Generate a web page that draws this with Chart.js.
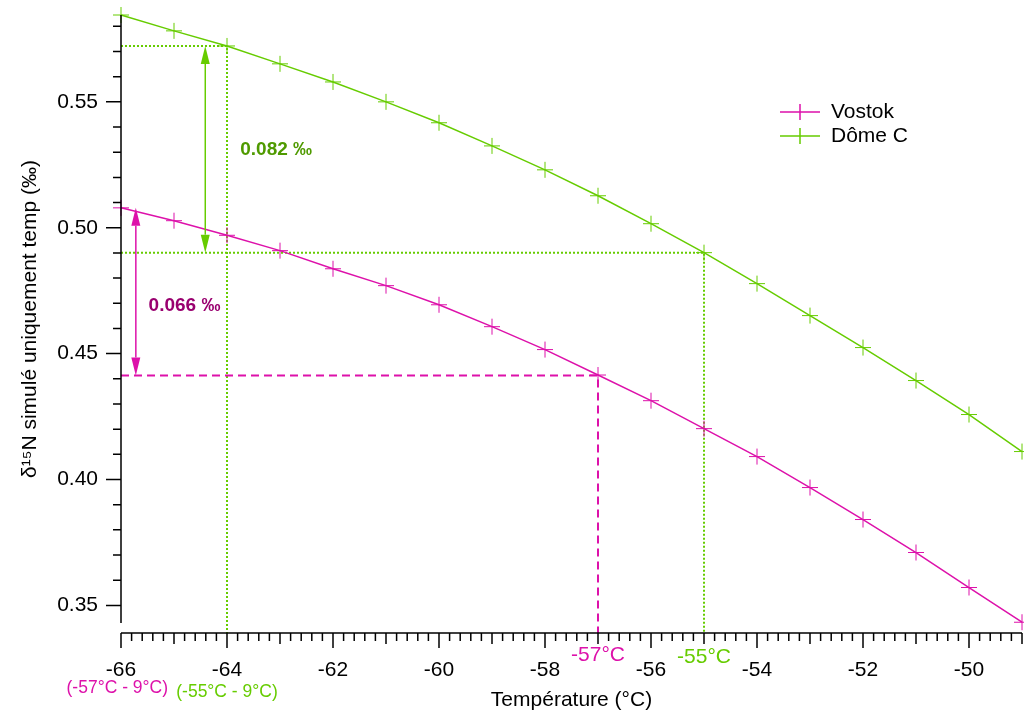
<!DOCTYPE html>
<html>
<head>
<meta charset="utf-8">
<script src="https://cdn.jsdelivr.net/npm/chart.js@4"></script>
<style>
  html, body { margin: 0; padding: 0; background: #fff; overflow: hidden; }
  #wrap { width: 1024px; height: 714px; position: relative; }
</style>
</head>
<body>
<div id="wrap"><canvas id="chart"></canvas></div>
<script>
// data
const temperatures = [-66, -65, -64, -63, -62, -61, -60, -59, -58, -57, -56, -55, -54, -53, -52, -51, -50, -49];
const vostok = [0.5079, 0.5028, 0.4970, 0.4909, 0.4837, 0.4770, 0.4694, 0.4607, 0.4516, 0.4415, 0.4313, 0.4202, 0.4091, 0.3968, 0.3841, 0.3710, 0.3571, 0.3433];
const domeC = [0.5845, 0.5782, 0.5722, 0.5651, 0.5579, 0.5500, 0.5417, 0.5325, 0.5230, 0.5127, 0.5016, 0.4901, 0.4778, 0.4651, 0.4524, 0.4393, 0.4258, 0.4111];
const xTicks = [-66, -64, -62, -60, -58, -56, -54, -52, -50];
const yTicks = [0.35, 0.40, 0.45, 0.50, 0.55];

// annotation values
const domeRange = { tCold: -64, tWarm: -55, high: 0.5722, low: 0.4901, label: '0.082 ‰' };
const vostokRange = { tCold: -66, tWarm: -57, high: 0.5079, low: 0.4413, label: '0.066 ‰' };

const MAGENTA = '#dd11aa';
const GREEN = '#66cc00';
const FONT = '"Liberation Sans", Arial, sans-serif';

function drawArrow(ctx, x, yTop, yBottom, color) {
  const head = 18, half = 4.5;
  ctx.save();
  ctx.strokeStyle = color;
  ctx.fillStyle = color;
  ctx.lineWidth = 1.5;
  ctx.beginPath();
  ctx.moveTo(x, yTop + head);
  ctx.lineTo(x, yBottom - head);
  ctx.stroke();
  ctx.beginPath();
  ctx.moveTo(x, yTop);
  ctx.lineTo(x - half, yTop + head);
  ctx.lineTo(x + half, yTop + head);
  ctx.closePath();
  ctx.fill();
  ctx.beginPath();
  ctx.moveTo(x, yBottom);
  ctx.lineTo(x - half, yBottom - head);
  ctx.lineTo(x + half, yBottom - head);
  ctx.closePath();
  ctx.fill();
  ctx.restore();
}

const decorations = {
  id: 'decorations',
  beforeDatasetsDraw(chart) {
    const { ctx, scales: { x, y } } = chart;
    const axisY = chart.chartArea.bottom + 10;
    ctx.save();
    // Dôme C dotted guides
    ctx.strokeStyle = GREEN;
    ctx.lineWidth = 2;
    ctx.setLineDash([2, 2]);
    ctx.beginPath();
    ctx.moveTo(x.getPixelForValue(-66), y.getPixelForValue(domeRange.high));
    ctx.lineTo(x.getPixelForValue(domeRange.tCold), y.getPixelForValue(domeRange.high));
    ctx.lineTo(x.getPixelForValue(domeRange.tCold), axisY);
    ctx.moveTo(x.getPixelForValue(-66), y.getPixelForValue(domeRange.low));
    ctx.lineTo(x.getPixelForValue(domeRange.tWarm), y.getPixelForValue(domeRange.low));
    ctx.lineTo(x.getPixelForValue(domeRange.tWarm), axisY);
    ctx.stroke();
    // Vostok dashed guide
    ctx.strokeStyle = MAGENTA;
    ctx.setLineDash([8, 5]);
    ctx.beginPath();
    ctx.moveTo(x.getPixelForValue(-66), y.getPixelForValue(vostokRange.low));
    ctx.lineTo(x.getPixelForValue(vostokRange.tWarm), y.getPixelForValue(vostokRange.low));
    ctx.lineTo(x.getPixelForValue(vostokRange.tWarm), axisY);
    ctx.stroke();
    ctx.restore();
  },
  afterDraw(chart) {
    const { ctx, chartArea, scales: { x, y } } = chart;
    ctx.save();
    ctx.strokeStyle = '#000';
    ctx.lineWidth = 1.5;
    ctx.setLineDash([]);

    // y axis with minor ticks
    const left = chartArea.left;
    ctx.beginPath();
    ctx.moveTo(left, chartArea.top);
    ctx.lineTo(left, chartArea.bottom);
    for (let i = 35; i <= 58; i++) {
      const py = y.getPixelForValue(i / 100);
      ctx.moveTo(left, py);
      ctx.lineTo(left - (i % 5 === 0 ? 15 : 8), py);
    }
    ctx.stroke();

    // x axis, offset below the plot
    const axisY = chartArea.bottom + 10;
    ctx.beginPath();
    ctx.moveTo(x.getPixelForValue(-66), axisY);
    ctx.lineTo(x.getPixelForValue(-49), axisY);
    for (let i = 0; i <= 85; i++) {
      const px = x.getPixelForValue(-66 + i * 0.2);
      const len = i % 10 === 0 ? 15 : (i % 5 === 0 ? 11 : 8);
      ctx.moveTo(px, axisY);
      ctx.lineTo(px, axisY + len);
    }
    ctx.stroke();

    // arrows
    drawArrow(ctx, x.getPixelForValue(-64.41), y.getPixelForValue(domeRange.high), y.getPixelForValue(domeRange.low), GREEN);
    drawArrow(ctx, x.getPixelForValue(-65.72), y.getPixelForValue(vostokRange.high), y.getPixelForValue(vostokRange.low), MAGENTA);

    // difference labels
    ctx.font = 'bold 19px ' + FONT;
    ctx.textBaseline = 'middle';
    ctx.textAlign = 'left';
    ctx.fillStyle = '#4f9a00';
    ctx.fillText(domeRange.label, x.getPixelForValue(-63.75), y.getPixelForValue(0.531));
    ctx.fillStyle = '#99006f';
    ctx.fillText(vostokRange.label, x.getPixelForValue(-65.48), y.getPixelForValue(0.469));

    // temperature markers under the axis
    ctx.textAlign = 'center';
    ctx.font = '21px ' + FONT;
    ctx.fillStyle = MAGENTA;
    ctx.fillText('-57°C', x.getPixelForValue(vostokRange.tWarm), axisY + 22);
    ctx.fillStyle = GREEN;
    ctx.fillText('-55°C', x.getPixelForValue(domeRange.tWarm), axisY + 24);
    ctx.font = '17.5px ' + FONT;
    ctx.fillStyle = MAGENTA;
    ctx.fillText('(-57°C - 9°C)', x.getPixelForValue(-66.07), axisY + 55);
    ctx.fillStyle = GREEN;
    ctx.fillText('(-55°C - 9°C)', x.getPixelForValue(-64), axisY + 59);

    // legend
    ctx.font = '21px ' + FONT;
    ctx.textAlign = 'left';
    ctx.lineWidth = 1.5;
    chart.data.datasets.forEach((ds, k) => {
      const ly = 112 + k * 24;
      ctx.strokeStyle = ds.borderColor;
      ctx.beginPath();
      ctx.moveTo(780, ly);
      ctx.lineTo(820, ly);
      ctx.moveTo(800, ly - 8);
      ctx.lineTo(800, ly + 8);
      ctx.stroke();
      ctx.fillStyle = '#000';
      ctx.fillText(ds.label, 831, ly);
    });
    ctx.restore();
  }
};

const toPoints = vals => temperatures.map((t, i) => ({ x: t, y: vals[i] }));

new Chart(document.getElementById('chart'), {
  type: 'line',
  data: {
    datasets: [
      {
        label: 'Vostok',
        data: toPoints(vostok),
        borderColor: MAGENTA,
        backgroundColor: MAGENTA,
        borderWidth: 1.5,
        pointStyle: 'cross',
        pointRadius: 8,
        pointBorderWidth: 1,
        tension: 0,
        clip: false
      },
      {
        label: 'Dôme C',
        data: toPoints(domeC),
        borderColor: GREEN,
        backgroundColor: GREEN,
        borderWidth: 1.5,
        pointStyle: 'cross',
        pointRadius: 8,
        pointBorderWidth: 1,
        tension: 0,
        clip: false
      }
    ]
  },
  options: {
    responsive: true,
    maintainAspectRatio: false,
    animation: false,
    layout: { autoPadding: false, padding: { top: 15, right: 2, left: 0, bottom: 0 } },
    plugins: { legend: { display: false }, tooltip: { enabled: false } },
    scales: {
      x: {
        type: 'linear',
        min: -66,
        max: -49,
        afterBuildTicks: s => { s.ticks = xTicks.map(v => ({ value: v })); },
        afterFit: s => {
          s.height = 91;
          s.paddingLeft = 0;
          s.paddingRight = 0;
        },
        grid: { display: false, drawTicks: false },
        border: { display: false },
        ticks: {
          padding: 35,
          color: '#000',
          font: { family: FONT, size: 21 },
          maxRotation: 0,
          callback: v => String(v)
        },
        title: {
          display: true,
          text: 'Température (°C)',
          color: '#000',
          font: { family: FONT, size: 21 },
          padding: { top: 0, bottom: 1 }
        }
      },
      y: {
        min: 0.343,
        max: 0.5845,
        afterBuildTicks: s => { s.ticks = yTicks.map(v => ({ value: v })); },
        afterFit: s => {
          s.width = 121;
          s.paddingTop = 0;
          s.paddingBottom = 0;
        },
        grid: { display: false, drawTicks: false },
        border: { display: false },
        ticks: {
          padding: 23,
          color: '#000',
          font: { family: FONT, size: 21 },
          callback: v => v.toFixed(2)
        },
        title: {
          display: true,
          text: 'δ¹⁵N simulé uniquement temp (‰)',
          color: '#000',
          font: { family: FONT, size: 21 },
          padding: { top: 18, bottom: 0 }
        }
      }
    }
  },
  plugins: [decorations]
});
</script>
</body>
</html>
